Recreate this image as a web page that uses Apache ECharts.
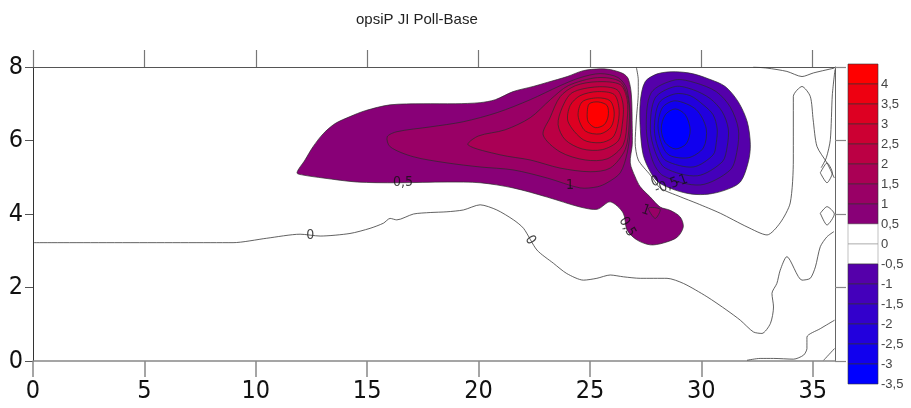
<!DOCTYPE html>
<html>
<head>
<meta charset="utf-8">
<title>opsiP JI Poll-Base</title>
<script src="https://cdn.jsdelivr.net/npm/echarts@6/dist/echarts.min.js"></script>
<style>
  html, body { margin: 0; padding: 0; background: #fff; }
  #main { width: 911px; height: 408px; }
</style>
</head>
<body>
<div id="main"></div>
<script>
// ticks
const xTicks = [0, 5, 10, 15, 20, 25, 30, 35];

// colour scale (band edges, top -> bottom) and band colours
const scaleStops = [4.5, 4, 3.5, 3, 2.5, 2, 1.5, 1, 0.5, 0, -0.5, -1, -1.5, -2, -2.5, -3, -3.5];
const scaleColors = ['#ff0000', '#ee0011', '#dd0022', '#cc0033', '#bb0044', '#aa0055', '#990066', '#880077',
  '#ffffff', '#ffffff', '#5500aa', '#4400bb', '#3300cc', '#2200dd', '#1100ee', '#0000ff'];

// filled contours, positive blob (level -> outline in data units)
const pos05 = [[11.85,5.12],[12.21,5.47],[12.57,5.83],[13.02,6.18],[13.56,6.46],[14.23,6.65],[14.91,6.81],[16.03,6.97],
  [17.51,7.00],[18.95,7.00],[20.07,7.03],[20.75,7.11],[21.55,7.33],[22.45,7.47],[23.08,7.58],[23.98,7.74],[24.70,7.90],
  [25.46,7.95],[25.91,7.93],[26.49,7.82],[26.72,7.68],[26.86,7.24],[26.90,6.32],[26.90,5.89],[26.81,5.39],[27.03,5.01],
  [27.26,4.74],[27.71,4.46],[28.15,4.19],[28.60,4.10],[29.05,3.92],[29.19,3.65],[28.92,3.37],[28.29,3.21],[27.71,3.16],
  [27.12,3.29],[26.67,3.56],[26.49,4.03],[25.91,4.33],[25.33,4.13],[24.56,4.19],[23.08,4.46],[21.55,4.71],[20.07,4.85],
  [18.59,4.87],[16.34,4.85],[14.55,4.87],[13.02,4.98],[12.12,5.06]];
const pos10 = [[15.90,6.10],[16.34,6.24],[17.83,6.37],[19.31,6.51],[20.84,6.76],[22.32,7.11],[23.66,7.49],[24.56,7.71],
  [25.46,7.82],[26.27,7.71],[26.67,7.38],[26.81,6.37],[26.67,5.66],[26.36,5.12],[25.77,4.85],[25.33,4.74],[24.56,4.71],
  [23.08,4.98],[21.55,5.20],[20.07,5.28],[18.59,5.39],[17.06,5.56],[16.03,5.83]];
const pos10b = [[27.63,4.16],[28.15,4.13],[27.93,3.88]];
const pos15 = [[19.53,5.88],[19.98,6.12],[21.19,6.29],[22.32,6.62],[23.22,7.11],[24.02,7.49],[25.33,7.71],[26.36,7.60],
  [26.72,7.11],[26.76,6.43],[26.58,5.75],[25.91,5.25],[25.01,5.15],[23.66,5.25],[22.32,5.47],[20.97,5.61]];
const pos20 = [[22.90,6.15],[23.21,6.62],[23.66,7.19],[24.34,7.49],[25.33,7.60],[26.36,7.52],[26.67,7.11],[26.67,6.56],
  [26.49,5.88],[25.77,5.50],[24.79,5.47],[23.66,5.69]];
const pos25 = [[23.57,6.43],[23.75,6.89],[24.20,7.30],[25.33,7.46],[26.22,7.38],[26.49,6.97],[26.45,6.43],[26.27,5.99],
  [25.55,5.75],[24.65,5.77],[23.89,6.02]];
const pos30 = [[24.02,6.51],[24.11,6.95],[24.56,7.22],[25.33,7.33],[26.09,7.25],[26.31,6.84],[26.22,6.35],[26.00,6.07],
  [25.46,5.94],[24.70,6.02]];
const pos35 = [[24.47,6.67],[24.65,7.05],[25.33,7.16],[25.91,7.08],[26.09,6.75],[25.95,6.37],[25.46,6.18],[24.79,6.26]];
const pos40 = [[24.88,6.78],[24.97,7.00],[25.37,7.05],[25.77,6.95],[25.82,6.67],[25.64,6.43],[25.24,6.35],[24.92,6.51]];

// filled contours, negative blob
const neg05 = [[27.48,7.60],[28.06,7.82],[28.83,7.87],[29.59,7.82],[30.31,7.68],[31.07,7.47],[31.66,7.05],[32.06,6.51],
  [32.20,5.89],[32.11,5.42],[31.75,4.87],[31.07,4.65],[30.31,4.54],[29.59,4.54],[28.83,4.65],[28.06,4.87],[27.71,5.15],
  [27.39,5.61],[27.26,6.32],[27.26,7.05]];
const neg10 = [[28.83,7.65],[29.73,7.57],[30.67,7.33],[31.30,6.91],[31.66,6.32],[31.61,5.74],[31.30,5.20],[29.95,4.79],
  [28.29,5.04],[27.80,5.47],[27.53,6.32],[27.75,7.30]];
const neg15 = [[28.83,7.47],[29.64,7.38],[30.40,7.14],[30.94,6.78],[31.21,6.32],[31.16,5.83],[30.94,5.42],[29.82,5.04],
  [28.38,5.25],[27.93,5.69],[27.71,6.32],[27.93,7.16]];
const neg20 = [[28.83,7.27],[29.50,7.22],[30.09,6.97],[30.53,6.70],[30.71,6.32],[30.67,5.94],[30.53,5.61],[29.64,5.28],
  [28.42,5.45],[28.06,5.80],[27.89,6.32],[28.11,7.03]];
const neg25 = [[28.83,7.08],[29.77,6.84],[30.22,6.32],[30.09,5.80],[29.41,5.53],[28.47,5.64],[28.06,6.32],[28.25,6.89]];
const neg30 = [[28.38,6.70],[28.83,6.86],[29.28,6.70],[29.50,6.29],[29.32,5.91],[28.83,5.77],[28.38,5.94],[28.20,6.32]];

// zero contour lines
const zeroMain = [[0,3.22],[8.98,3.22],[10.49,3.34],[11.99,3.45],[12.89,3.40],[14.23,3.47],[15.13,3.61],[15.73,3.75],
  [16.03,3.88],[16.33,3.84],[17.08,4.00],[17.83,4.04],[18.58,4.06],[19.32,4.11],[20.07,4.25],[20.82,4.11],[21.57,3.84],
  [22.02,3.61],[22.62,3.02],[23.36,2.66],[23.96,2.38],[24.71,2.20],[25.31,2.25],[25.91,2.34],[26.51,2.29],[27.26,2.25],
  [28.46,2.25],[29.20,2.11],[30.25,1.75],[31.15,1.38],[31.75,1.11],[32.34,0.79],[32.72,0.75],[33.10,1.02],[33.24,1.47],
  [33.17,1.84],[33.39,2.11],[33.54,2.47],[33.84,2.84],[34.52,2.20],[34.89,2.25],[35.12,2.56],[35.34,3.11],[35.64,3.38],
  [35.95,3.52]];
const zeroBlob = [[27.08,8.0],[27.17,7.65],[27.17,7.30],[27.08,6.56],[27.03,5.94],[27.17,5.47],[27.71,5.06],[28.15,4.71],
  [29.05,4.47],[29.80,4.29],[30.85,4.02],[32.05,3.65],[32.95,3.43],[33.54,3.76],[33.99,4.30],[34.13,5.47],[34.13,7.20],
  [34.52,7.47],[34.89,7.20],[35.02,6.56],[35.19,5.84],[35.64,5.39],[35.97,4.98]];
const zeroTop = [[32.33,8.0],[32.95,7.97],[33.84,7.88],[34.52,7.74],[35.04,7.84],[35.97,7.97]];
const zeroEdge = [[36.0,7.93],[35.88,7.24],[35.79,6.02],[35.61,5.53],[35.38,5.26]];
const zeroDiamond1 = [[35.34,5.12],[35.64,5.39],[35.88,5.12],[35.64,4.85],[35.34,5.12]];
const zeroDiamond2 = [[35.34,4.02],[35.64,4.20],[35.97,4.00],[35.64,3.70],[35.34,4.02]];
const zeroBottom = [[32.05,0.02],[32.64,0.07],[33.24,0.07],[34.14,0.05],[34.59,0.16],[34.74,0.34],[34.74,0.65],
  [35.34,0.88],[35.98,1.11]];
const zeroCorner = [[35.49,0.02],[35.98,0.34]];

// contour labels
const labelTexts = ['0', '0', '0,5', '1', '0,5', '1', '0', '-0,5', '-1'];
const labelCoords = [[12.44,3.43],[22.32,3.29],[16.61,4.85],[24.11,4.79],[26.67,3.65],[27.50,4.10],[27.93,4.88],[28.45,4.76],[29.10,4.90]];
const labelAngles = [0, -57, 0, 0, -60, -20, 20, 20, 20];

const fills = [
  [0.5, pos05], [1, pos10], [1, pos10b], [1.5, pos15], [2, pos20], [2.5, pos25], [3, pos30], [3.5, pos35], [4, pos40],
  [-0.5, neg05], [-1, neg10], [-1.5, neg15], [-2, neg20], [-2.5, neg25], [-3, neg30]
];
const zeroLines = [zeroMain, zeroBlob, zeroTop, zeroEdge, zeroDiamond1, zeroDiamond2, zeroBottom, zeroCorner];

function levelColor(level) {
  // band above a positive level, below a negative one
  const lo = level > 0 ? level : level - 0.5;
  for (let i = 0; i < scaleStops.length - 1; i++) {
    if (Math.abs(scaleStops[i + 1] - lo) < 1e-6) return scaleColors[i];
  }
  return '#ffffff';
}

const narrow = "'Liberation Sans Narrow', 'DejaVu Sans Condensed', sans-serif";
const chart = echarts.init(document.getElementById('main'));

const series = [];

series.push({
  type: 'custom',
  xAxisIndex: 0,
  yAxisIndex: 0,
  silent: true,
  data: fills.map(f => f[1][0]),
  renderItem: (params, api) => {
    const f = fills[params.dataIndex];
    return {
      type: 'polygon',
      shape: { points: f[1].map(p => api.coord(p)), smooth: 0.3 },
      style: { fill: levelColor(f[0]), stroke: '#2a2a2a', lineWidth: 0.7 }
    };
  }
});

zeroLines.forEach(line => {
  series.push({
    type: 'line',
    xAxisIndex: 0,
    yAxisIndex: 0,
    data: line,
    symbol: 'none',
    smooth: 0.25,
    silent: true,
    lineStyle: { color: '#3a3a3a', width: 0.8 }
  });
});

series.push({
  type: 'scatter',
  xAxisIndex: 0,
  yAxisIndex: 0,
  symbolSize: 0,
  silent: true,
  data: labelTexts.map((t, i) => ({
    value: labelCoords[i],
    name: t,
    label: {
      rotate: labelAngles[i],
      backgroundColor: t === '0' && i < 2 ? '#fff' : 'transparent'
    }
  })),
  label: {
    show: true,
    position: 'inside',
    formatter: p => p.name,
    color: '#111',
    fontSize: 14,
    fontFamily: narrow,
    padding: [0, 1]
  }
});

// colour bar
series.push({
  type: 'custom',
  xAxisIndex: 2,
  yAxisIndex: 2,
  silent: true,
  data: scaleColors.map((c, i) => [0, scaleStops[i + 1]]),
  renderItem: (params, api) => {
    const i = params.dataIndex;
    const a = api.coord([0, scaleStops[i]]);
    const b = api.coord([1, scaleStops[i + 1]]);
    return {
      type: 'rect',
      shape: { x: a[0], y: a[1], width: b[0] - a[0], height: b[1] - a[1] },
      style: { fill: scaleColors[i], stroke: scaleColors[i] === '#ffffff' ? '#999' : '#333', lineWidth: 0.6 }
    };
  }
});

chart.setOption({
  animation: false,
  backgroundColor: '#fff',
  title: {
    text: 'opsiP JI Poll-Base',
    left: 356,
    top: 12,
    padding: 0,
    textStyle: { fontSize: 15, fontWeight: 'normal', color: '#222', fontFamily: 'Liberation Sans, Arial, sans-serif' }
  },
  grid: [
    { left: 33, top: 67, width: 802, height: 294 },
    { left: 848, top: 64, width: 30, height: 320 }
  ],
  xAxis: [
    {
      gridIndex: 0, type: 'value', min: 0, max: 36, position: 'bottom',
      axisLine: { show: true, onZero: false, lineStyle: { color: '#888', width: 1.5 } },
      axisTick: { show: true, customValues: xTicks, length: 16, lineStyle: { color: '#888', width: 1.5 } },
      axisLabel: { customValues: xTicks, fontSize: 25, margin: 18, color: '#111', fontFamily: narrow },
      splitLine: { show: false }
    },
    {
      gridIndex: 0, type: 'value', min: 0, max: 36, position: 'top',
      axisLine: { show: true, onZero: false, lineStyle: { color: '#555', width: 1 } },
      axisTick: { show: true, customValues: xTicks, length: 17, lineStyle: { color: '#777', width: 1.2 } },
      axisLabel: { show: false },
      splitLine: { show: false }
    },
    { gridIndex: 1, type: 'value', min: 0, max: 1, show: false }
  ],
  yAxis: [
    {
      gridIndex: 0, type: 'value', min: 0, max: 8, interval: 2, position: 'left',
      axisLine: { show: true, onZero: false, lineStyle: { color: '#333', width: 1 } },
      axisTick: { show: true, length: 8, lineStyle: { color: '#555' } },
      axisLabel: { fontSize: 25, margin: 10, color: '#111', fontFamily: narrow },
      splitLine: { show: false }
    },
    {
      gridIndex: 0, type: 'value', min: 0, max: 8, interval: 2, position: 'right',
      axisLine: { show: true, onZero: false, lineStyle: { color: '#666', width: 1 } },
      axisTick: { show: true, length: 11, lineStyle: { color: '#888', width: 1.2 } },
      axisLabel: { show: false },
      splitLine: { show: false }
    },
    {
      gridIndex: 1, type: 'value', min: -3.5, max: 4.5, interval: 0.5, position: 'right',
      axisLine: { show: false },
      axisTick: { show: false },
      axisLabel: {
        showMaxLabel: false,
        margin: 3,
        fontSize: 13,
        color: '#444',
        fontFamily: 'Liberation Sans, Arial, sans-serif',
        formatter: v => (v > 4.25 ? '' : String(v).replace('.', ','))
      },
      splitLine: { show: false }
    }
  ],
  series: series
});
</script>
</body>
</html>
